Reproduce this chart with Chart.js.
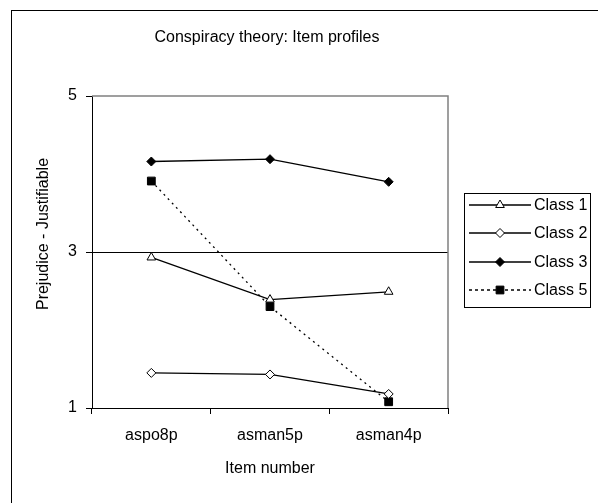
<!DOCTYPE html>
<html lang="en">
<head>
  <meta charset="UTF-8">
  <title>Conspiracy theory: Item profiles</title>
  <script src="https://cdn.jsdelivr.net/npm/chart.js"></script>
  <style>
    body { margin: 0; background: #fff; }
    canvas { display: block; }
  </style>
</head>
<body>
  <canvas id="myChart" width="598" height="503"></canvas>
  <script>
// values
const items = ['aspo8p', 'asman5p', 'asman4p'];
const class1 = [2.93, 2.39, 2.49];
const class2 = [1.45, 1.43, 1.18];
const class3 = [4.16, 4.19, 3.90];
const class5 = [3.91, 2.30, 1.08];
const yTicks = [1, 3, 5];
const chartTitle = 'Conspiracy theory: Item profiles';
const yTitle = 'Prejudice - Justifiable';

const FAMILY = '"Liberation Sans", Arial, sans-serif';
const FONT = { family: FAMILY, size: 16 };

// white page, outer frame, titles, gray top/right plot border, boxed legend
const framePlugin = {
  id: 'frame',
  beforeDraw(chart) {
    const c = chart.ctx;
    c.save();
    c.fillStyle = '#fff';
    c.fillRect(0, 0, chart.width, chart.height);
    c.strokeStyle = '#000';
    c.lineWidth = 1;
    c.strokeRect(11.5, 10.5, chart.width + 10, chart.height + 10);
    const a = chart.chartArea;
    c.fillStyle = '#000';
    c.font = '16px ' + FAMILY;
    c.textAlign = 'center';
    c.textBaseline = 'middle';
    c.fillText(chartTitle, (a.left + a.right) / 2 - 3, 38);
    c.translate(44, 234);
    c.rotate(-Math.PI / 2);
    c.fillText(yTitle, 0, 0);
    c.restore();
  },
  beforeDatasetsDraw(chart) {
    const a = chart.chartArea;
    const c = chart.ctx;
    c.save();
    c.strokeStyle = '#808080';
    c.lineWidth = 1.5;
    c.beginPath();
    c.moveTo(a.left, a.top);
    c.lineTo(a.right, a.top);
    c.lineTo(a.right, a.bottom);
    c.stroke();
    c.restore();
  },
  afterDraw(chart) {
    const c = chart.ctx;
    c.save();
    c.strokeStyle = '#000';
    c.lineWidth = 1;
    c.strokeRect(464.5, 193.5, 126, 114);
    const ys = [205, 233, 262, 290];
    chart.data.datasets.forEach((ds, i) => {
      const y = ys[i];
      c.strokeStyle = '#000';
      c.lineWidth = 1.3;
      c.setLineDash(ds.borderDash ? [3, 3] : []);
      c.beginPath();
      c.moveTo(469, y);
      c.lineTo(531, y);
      c.stroke();
      c.setLineDash([]);
      c.fillStyle = ds.pointBackgroundColor;
      c.strokeStyle = '#000';
      c.lineWidth = 1;
      Chart.helpers.drawPoint(c, { pointStyle: ds.pointStyle, radius: ds.pointRadius, rotation: 0, borderWidth: 1 }, 500, y);
      c.fillStyle = '#000';
      c.font = '16px ' + FAMILY;
      c.textBaseline = 'middle';
      c.textAlign = 'left';
      c.fillText(ds.label, 534, y + 1);
    });
    c.restore();
  }
};

const ctx = document.getElementById('myChart').getContext('2d');
new Chart(ctx, {
  type: 'line',
  data: {
    labels: items,
    datasets: [
      { label: 'Class 1', data: class1, pointStyle: 'triangle', pointRadius: 5, pointBackgroundColor: '#fff' },
      { label: 'Class 2', data: class2, pointStyle: 'rectRot', pointRadius: 4.5, pointBackgroundColor: '#fff' },
      { label: 'Class 3', data: class3, pointStyle: 'rectRot', pointRadius: 4.5, pointBackgroundColor: '#000' },
      { label: 'Class 5', data: class5, pointStyle: 'rect', pointRadius: 5.5, pointBackgroundColor: '#000', borderDash: [2, 4] }
    ].map(ds => Object.assign({
      borderColor: '#000',
      borderWidth: 1.3,
      pointBorderColor: '#000',
      pointBorderWidth: 1,
      pointHoverRadius: ds.pointRadius,
      tension: 0,
      fill: false
    }, ds))
  },
  options: {
    responsive: false,
    animation: false,
    events: [],
    layout: { padding: { left: 0, right: 150, top: 96, bottom: 0 } },
    plugins: {
      legend: { display: false },
      tooltip: { enabled: false },
      title: { display: false }
    },
    scales: {
      x: {
        type: 'category',
        offset: true,
        afterFit: s => { s.height = 95; },
        grid: {
          offset: true,
          color: 'transparent',
          tickColor: '#000',
          tickLength: 6,
          drawOnChartArea: false
        },
        border: { color: '#000', width: 1 },
        ticks: { color: '#000', font: FONT, padding: 12, maxRotation: 0 },
        title: {
          display: true,
          text: 'Item number',
          color: '#000',
          font: FONT,
          padding: { top: 0, bottom: 25 }
        }
      },
      y: {
        min: 1,
        max: 5,
        afterFit: s => { s.width = 92; },
        afterBuildTicks: s => { s.ticks = yTicks.map(v => ({ value: v })); },
        grid: {
          color: c => (c.tick && c.tick.value === 3 ? '#000' : 'transparent'),
          tickColor: '#000',
          tickLength: 6
        },
        border: { color: '#000', width: 1 },
        ticks: { color: '#000', font: FONT, padding: 9 },
        title: { display: false }
      }
    }
  },
  plugins: [framePlugin]
});
  </script>
</body>
</html>
